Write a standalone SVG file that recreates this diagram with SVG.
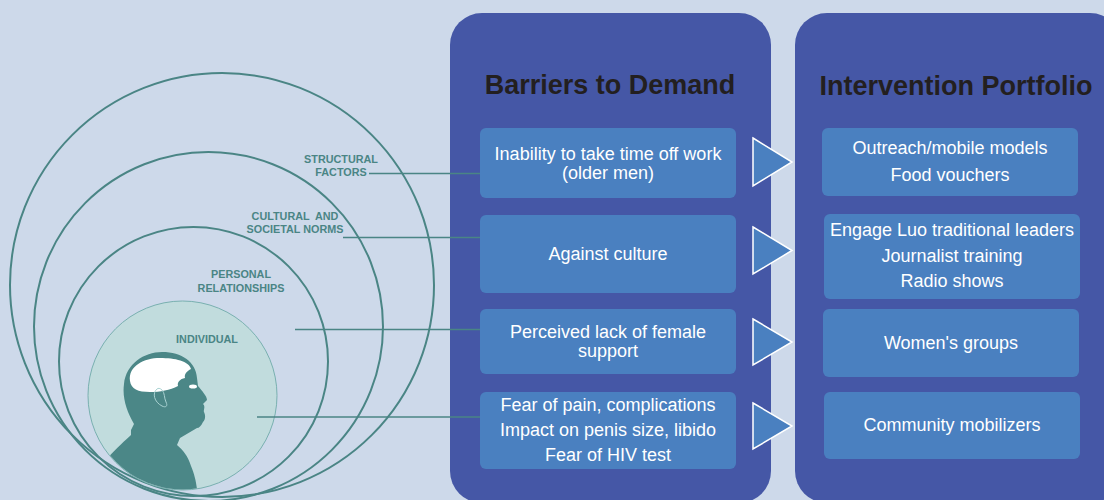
<svg xmlns="http://www.w3.org/2000/svg" width="1104" height="500" viewBox="0 0 1104 500">
<style>
.bg{fill:#cdd9ea}
.panel{fill:#4557a6}
.box{fill:#4a80c0}
.ring{fill:none;stroke:#4a8585;stroke-width:2}
.lead{stroke:#4a8585;stroke-width:1.5;fill:none}
.lbl{font-family:"Liberation Sans",Arial,sans-serif;font-weight:bold;font-size:10.8px;fill:#4a8585;text-anchor:middle}
.title{font-family:"Liberation Sans",Arial,sans-serif;font-weight:bold;font-size:27px;fill:#231f20;text-anchor:middle}
.bt{font-family:"Liberation Sans",Arial,sans-serif;font-size:18px;fill:#ffffff;text-anchor:middle}
.tri{fill:#4a80c0;stroke:#ffffff;stroke-width:1.5;stroke-linejoin:miter}
</style>
<defs>
<clipPath id="indClip"><circle cx="182.5" cy="395.5" r="94"/></clipPath>
</defs>
<rect class="bg" x="0" y="0" width="1104" height="500"/>

<g id="rings">
<circle class="ring" cx="222" cy="285" r="212"/>
<circle class="ring" cx="208.5" cy="326.5" r="174.5"/>
<circle class="ring" cx="193.5" cy="361.5" r="134.5"/>
</g>

<g id="individual">
<circle cx="182.5" cy="395.5" r="94.5" fill="#c1dcdd" stroke="#79b0b0" stroke-width="1"/>
<g clip-path="url(#indClip)">
<path fill="#4b8787" d="M134,424 C127,412 122,398 124,384 C126,364 144,352 162,352 C182,352 196,362 197,378 L198,386 C202,391 207,396 207,400 L203,404 C206,407 203,410 204,412 C206,416 205,420 203,422 C201,426 199,428 197,428 L180,438 L177,445 C183,450 188,456 191,466 C195,476 197,484 198,500 L100,500 L108,458 C116,448 126,440 131,435 L131,430 Z"/>
</g>
<path fill="#ffffff" d="M130,381 C128,366 144,358 160,358 C175,358 189,361 191,369 C187,371 184,374 185,378 C180,379 177,382 178,386 C170,390 160,392 150,392 C138,392 131,389 130,381 Z"/>
<ellipse cx="193" cy="386.5" rx="4" ry="2" fill="#ffffff"/>
<path fill="none" stroke="#a9d2d2" stroke-width="1" d="M157,389 C152,393 154,402 162,406 C166,408 168,406 166,402 C164,398 165,393 162,390 C160,388 158,388 157,389 Z"/>
<text class="lbl" x="207" y="343">INDIVIDUAL</text>
</g>

<g id="labels">
<text class="lbl" x="341" y="163">STRUCTURAL</text>
<text class="lbl" x="341" y="176">FACTORS</text>
<text class="lbl" x="295" y="220" xml:space="preserve">CULTURAL  AND</text>
<text class="lbl" x="295" y="233">SOCIETAL NORMS</text>
<text class="lbl" x="241" y="278">PERSONAL</text>
<text class="lbl" x="241" y="292">RELATIONSHIPS</text>
</g>

<g id="panel-barriers">
<rect class="panel" x="450" y="13" width="321" height="490" rx="32"/>
<text class="title" x="610" y="94">Barriers to Demand</text>
</g>
<g id="panel-interventions">
<rect class="panel" x="795" y="13" width="327" height="490" rx="32"/>
<text class="title" x="956" y="95">Intervention Portfolio</text>
</g>

<g id="b1"><rect class="box" x="480" y="128" width="256" height="70" rx="6"/>
<text class="bt" x="608" y="160">Inability to take time off work</text>
<text class="bt" x="608" y="179">(older men)</text></g>
<g id="b2"><rect class="box" x="480" y="215" width="256" height="78" rx="6"/>
<text class="bt" x="608" y="260">Against culture</text></g>
<g id="b3"><rect class="box" x="480" y="309" width="256" height="65" rx="6"/>
<text class="bt" x="608" y="338">Perceived lack of female</text>
<text class="bt" x="608" y="357">support</text></g>
<g id="b4"><rect class="box" x="480" y="392" width="256" height="77" rx="6"/>
<text class="bt" x="608" y="411">Fear of pain, complications</text>
<text class="bt" x="608" y="436">Impact on penis size, libido</text>
<text class="bt" x="608" y="461">Fear of HIV test</text></g>

<g id="i1"><rect class="box" x="822" y="128" width="256" height="68" rx="6"/>
<text class="bt" x="950" y="154">Outreach/mobile models</text>
<text class="bt" x="950" y="181">Food vouchers</text></g>
<g id="i2"><rect class="box" x="824" y="214" width="256" height="85" rx="6"/>
<text class="bt" x="952" y="236">Engage Luo traditional leaders</text>
<text class="bt" x="952" y="262">Journalist training</text>
<text class="bt" x="952" y="287">Radio shows</text></g>
<g id="i3"><rect class="box" x="823" y="309" width="256" height="68" rx="6"/>
<text class="bt" x="951" y="349">Women's groups</text></g>
<g id="i4"><rect class="box" x="824" y="392" width="256" height="67" rx="6"/>
<text class="bt" x="952" y="431">Community mobilizers</text></g>

<g id="connectors">
<line class="lead" x1="369" y1="173.5" x2="480" y2="173.5"/>
<line class="lead" x1="343" y1="237.5" x2="480" y2="237.5"/>
<line class="lead" x1="295" y1="329.5" x2="480" y2="329.5"/>
<line class="lead" x1="257" y1="417" x2="480" y2="417"/>
<polygon class="tri" points="753,138 792,162 753,186"/>
<polygon class="tri" points="753,227 792,250.5 753,274"/>
<polygon class="tri" points="753,319 792,342 753,365"/>
<polygon class="tri" points="753,403 792,426 753,449"/>
</g>
</svg>
